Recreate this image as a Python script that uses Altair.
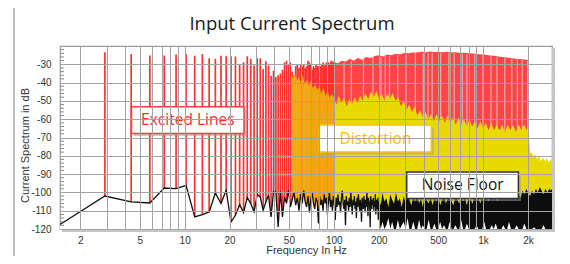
import altair as alt
import pandas as pd

# ---------------- data ----------------
DF = 1.46                      # spacing of the spectral lines (Hz)
F_RANGE = [1.46, 2900]         # x-axis range (Hz)
DB_RANGE = [-120, -20]         # y-axis range (dB)

# excited lines, k = 2..68 (f = k * DF): peak level in dB
exc_peak = [
    -23.4, -24.4, -25.2, -25.2, -24.7, -24.4, -25.3, -24.4, -26.7, -27.0,
    -25.3, -25.6, -25.6, -25.8, -29.8, -28.9, -25.6, -27.0, -30.7, -26.7,
    -26.7, -32.6, -28.4, -30.7, -36.2, -33.5, -37.0, -36.0, -35.0, -33.0,
    -29.0, -28.0, -30.0, -29.0, -34.0, -36.0, -31.0, -30.0, -32.0, -30.0,
    -31.0, -30.0, -32.0, -31.0, -28.0, -29.0, -30.0, -33.0, -31.0, -32.0,
    -30.0, -31.0, -31.0, -33.0, -31.0, -30.0, -29.0, -31.0, -30.0, -29.0,
    -30.0, -29.0, -30.0, -29.0, -28.0, -29.0, -28.5,
]

# dense excited lines above 100 Hz: envelope of the peaks
red_env_f = [100, 106, 113, 120, 128, 136, 145, 155, 165, 176,
             188, 200, 214, 228, 244, 260, 278, 297, 317, 339,
             362, 387, 413, 441, 471, 503, 537, 574, 613, 655,
             700, 747, 798, 852, 910, 972, 1038, 1109, 1184, 1265,
             1351, 1443, 1541, 1646, 1758, 1878, 1960, 2020]
red_env_db = [-28.5, -29.5, -28.0, -28.5, -27.0, -28.0, -26.5, -27.5, -26.0, -26.5,
              -25.5, -25.0, -25.8, -24.6, -25.0, -24.2, -24.5, -23.8, -24.0, -23.5,
              -23.6, -23.2, -23.4, -23.0, -23.3, -23.1, -23.4, -23.2, -23.5, -23.4,
              -23.8, -23.7, -24.0, -24.1, -24.4, -24.6, -24.8, -25.2, -25.3, -25.7,
              -26.0, -26.3, -26.6, -26.9, -27.1, -27.4, -27.5, -27.6]

# lighter lines seen inside the dense red band
stripe_f = [117, 131, 158, 183, 207, 221, 236, 268, 305, 352,
            398, 428, 456, 520, 590, 640, 726, 780, 880, 1000,
            1130, 1240, 1400, 1560, 1700, 1830, 1990]
stripe_db = [-29, -28, -27, -26, -26, -25.5, -25.5, -25, -24.5, -24,
             -24, -23.8, -23.8, -23.7, -23.8, -24, -24.2, -24.5, -24.8, -25,
             -25.7, -26, -26.5, -27, -27.3, -27.6, -28]

# distortion (non-excited lines), 52..100 Hz where it mixes with the red lines
orange_f = [52, 53.5, 55, 56.5, 58, 60, 62, 64, 66, 68, 70,
            72.5, 75, 77.5, 80, 82.5, 85, 88, 91, 94, 97, 100]
orange_db = [-34, -38, -35, -39, -37, -40, -36, -41, -38, -42, -39,
             -43, -41, -44, -42, -46, -43, -47, -45, -48, -46, -48]

# distortion above 100 Hz
yellow_f = [100, 104, 108, 112, 117, 122, 127, 132, 138, 144,
            150, 156, 163, 170, 177, 185, 193, 201, 210, 219,
            228, 238, 248, 259, 270, 282, 294, 307, 320, 334,
            348, 363, 379, 395, 412, 430, 449, 468, 488, 509,
            531, 554, 578, 603, 629, 656, 684, 714, 745, 777,
            810, 845, 882, 920, 960, 1001, 1044, 1089, 1136, 1185,
            1236, 1290, 1345, 1403, 1464, 1527, 1593, 1662, 1733, 1808,
            1886, 1967, 2020, 2035, 2060, 2090, 2130, 2180, 2240, 2300,
            2370, 2440, 2520, 2600, 2680, 2760, 2840, 2900]
yellow_db = [-48, -52, -47, -51, -48, -53, -49, -52, -48, -51,
             -47, -50, -46, -49, -45, -48, -44.5, -49, -46, -50,
             -46, -49, -45.5, -50, -48, -53, -50, -55, -52, -56,
             -53, -58, -55, -59, -56, -60, -57, -61, -57, -61,
             -58, -62, -58, -62, -59, -63, -59, -63, -60, -64,
             -60, -64, -61, -65, -61, -65, -62, -66, -62, -66,
             -63, -66, -63, -67, -63, -66, -63, -67, -63, -66,
             -63, -66, -64, -70, -76, -79, -78, -81, -79, -82,
             -80, -83, -81, -83, -81, -84, -82, -83]

# noise floor at every line k = 1..137 (f = k * DF)
noise_db = [
    -117.5, -102.0, -105.2, -105.8, -97.6, -97.9, -96.1, -113.4, -112.1, -110.7,
    -100.3, -106.1, -98.8, -116.2, -112.5, -106.7, -111.0, -102.8, -106.1, -110.7,
    -101.1, -102.5, -109.8, -105.2, -101.6, -113.4, -99.4, -99.8, -118.9, -99.4,
    -113.4, -102.5, -106.0, -98.8, -108.0, -104.0, -100.0, -107.0, -103.0, -110.0,
    -101.0, -106.0, -99.0, -105.0, -108.0, -102.0, -111.0, -104.0, -100.0, -106.0,
    -109.0, -103.0, -105.0, -117.0, -102.0, -107.0, -104.0, -110.0, -101.0, -106.0,
    -103.0, -112.0, -105.0, -100.0, -108.0, -104.0, -110.0, -102.0, -106.0, -115.0,
    -103.0, -108.0, -101.0, -107.0, -105.0, -111.0, -103.0, -99.0, -106.0, -109.0,
    -104.0, -118.0, -102.0, -107.0, -105.0, -110.0, -103.0, -108.0, -100.0, -106.0,
    -112.0, -104.0, -107.0, -102.0, -109.0, -105.0, -114.0, -103.0, -108.0, -101.0,
    -106.0, -110.0, -104.0, -107.0, -116.0, -103.0, -105.0, -109.0, -102.0, -106.0,
    -111.0, -104.0, -108.0, -100.0, -106.0, -113.0, -103.0, -107.0, -105.0, -119.0,
    -102.0, -106.0, -109.0, -104.0, -107.0, -103.0, -110.0, -105.0, -108.0, -101.0,
    -112.0, -106.0, -104.0, -109.0, -103.0, -115.0, -105.0,
]

# noise floor above 200 Hz (too dense to resolve): upper and lower edge
band_f = [200, 206, 212, 218, 225, 232, 239, 246, 253, 261,
          269, 277, 285, 294, 303, 312, 321, 331, 341, 351,
          362, 373, 384, 395, 407, 419, 432, 445, 458, 472,
          486, 501, 516, 531, 547, 564, 581, 598, 616, 634,
          653, 673, 693, 714, 735, 757, 780, 803, 827, 852,
          878, 904, 931, 959, 988, 1018, 1048, 1080, 1112, 1145,
          1180, 1215, 1252, 1289, 1328, 1368, 1409, 1451, 1494, 1539,
          1585, 1633, 1682, 1732, 1784, 1838, 1893, 1950, 2008, 2068,
          2130, 2194, 2260, 2328, 2398, 2470, 2544, 2620, 2699, 2780,
          2840, 2900]
band_top = [-102, -107, -100, -105, -103, -108, -101, -104, -106, -100,
            -105, -103, -108, -102, -106, -99, -104, -107, -102, -105,
            -101, -106, -103, -108, -100, -104, -106, -102, -107, -103,
            -105, -101, -107, -104, -102, -106, -103, -100, -105, -107,
            -102, -104, -106, -101, -105, -103, -107, -102, -104, -106,
            -101, -105, -103, -106, -102, -104, -100, -105, -103, -101,
            -104, -102, -105, -100, -103, -101, -104, -102, -100, -103,
            -101, -99, -102, -100, -103, -99, -101, -98, -100, -102,
            -99, -101, -98, -100, -97, -99, -101, -98, -100, -98,
            -99, -98]
band_bot = [-113, -120, -116, -120, -118, -114, -120, -116, -120, -120,
            -115, -120, -118, -116, -120, -114, -120, -120, -116, -120,
            -120, -115, -120, -118, -120, -120, -115, -120, -120, -117,
            -120, -120, -116, -120, -118, -120, -120, -116, -120, -120,
            -118, -120, -120, -115, -120, -120, -117, -120, -120, -120,
            -120, -118, -120, -120, -120, -116, -120, -120, -120, -118,
            -120, -117, -120, -120, -120, -118, -120, -120, -116, -120,
            -120, -120, -118, -120, -120, -120, -117, -120, -120, -120,
            -120, -119, -120, -120, -120, -120, -118, -120, -120, -120,
            -120, -120]

# axis ticks
x_grid = [2, 3, 4, 5, 6, 7, 8, 9, 10, 20, 30, 40, 50, 60, 70, 80, 90,
          100, 200, 300, 400, 500, 600, 700, 800, 900, 1000, 2000]
x_labelled = [2, 5, 10, 20, 50, 100, 200, 500, 1000, 2000]
y_vals = [-30, -40, -50, -60, -70, -80, -90, -100, -110, -120]
y_minor = [-118, -116, -114, -112, -108, -106, -104, -102, -98, -96, -94, -92,
           -88, -86, -84, -82, -78, -76, -74, -72, -68, -66, -64, -62,
           -58, -56, -54, -52, -48, -46, -44, -42, -38, -36, -34, -32,
           -28, -26, -24, -22]

# annotation boxes (in data coordinates)
ann_text = ["Excited Lines", "Distortion", "Noise Floor"]
ann_f1 = [4.4, 80, 308]
ann_f2 = [25, 450, 1726]
ann_db1 = [-53.2, -63.2, -88.8]
ann_db2 = [-67.8, -77.9, -103.4]
ann_fc = [10.5, 190, 730]
ann_dbc = [-60.5, -70.6, -96.1]
ann_color = ["#ff2b2b", "#ffc000", "#111111"]
ann_stroke = ["#ff3b3b", "#f5c518", "#333333"]

# ---------------- chart ----------------
W, H = 492, 183
FONT = "Liberation Sans"

xs = alt.Scale(type="log", domain=F_RANGE, nice=False)
ys = alt.Scale(domain=DB_RANGE, nice=False, zero=False)

x_axis = alt.Axis(
    values=x_grid, title="Frequency In Hz", grid=True, ticks=False, domain=False,
    labelExpr="indexof(" + str(x_labelled) + ", datum.value) >= 0 ? "
              "(datum.value >= 1000 ? (datum.value / 1000) + 'k' : '' + datum.value) : ''",
    labelOverlap=False, labelFlush=False, labelFont=FONT, labelFontSize=10,
    labelColor="#333333", labelPadding=6, titleFont=FONT, titleFontSize=11,
    titleFontWeight="normal", titleColor="#333333", titleY=21.5, titleBaseline="middle",
    gridColor="#a3a3a3", gridWidth=1, zindex=1)
y_axis = alt.Axis(
    values=y_vals, title="Current Spectrum in dB", grid=True, ticks=False, domain=False,
    labelExpr="'' + datum.value", labelFont=FONT, labelFontSize=10, labelColor="#333333",
    labelPadding=9, labelOverlap=False, titleFont=FONT, titleFontSize=11,
    titleFontWeight="normal", titleColor="#333333", titleX=-35, titleY=99,
    titleAngle=270, titleBaseline="middle", titleAlign="center",
    gridColor="#a3a3a3", gridWidth=1, zindex=1)


def X(f):
    return alt.X(f"{f}:Q", scale=xs, axis=x_axis)


def Y(f):
    return alt.Y(f"{f}:Q", scale=ys, axis=y_axis)


exc_df = pd.DataFrame({"f": [DF * k for k in range(2, 2 + len(exc_peak))], "db": exc_peak})
red_env_df = pd.DataFrame({"f": red_env_f, "db": red_env_db})
stripe_df = pd.DataFrame({"f": stripe_f, "db": stripe_db})
orange_df = pd.DataFrame({"f": orange_f, "db": orange_db})
yellow_df = pd.DataFrame({"f": yellow_f, "db": yellow_db})
noise_df = pd.DataFrame({"f": [DF * k for k in range(1, 1 + len(noise_db))], "db": noise_db})
band_df = pd.DataFrame({"f": band_f, "top": band_top, "bot": band_bot})
minor_df = pd.DataFrame({"db": y_minor})
ann_df = pd.DataFrame({"text": ann_text, "f1": ann_f1, "f2": ann_f2, "db1": ann_db1,
                       "db2": ann_db2, "fc": ann_fc, "dbc": ann_dbc,
                       "tcolor": ann_color, "scolor": ann_stroke})

red_rules = alt.Chart(exc_df).mark_rule(color="#ff3030", strokeWidth=1.7).encode(
    x=X("f"), y=Y("db"), y2=alt.datum(-120))
red_area = alt.Chart(red_env_df).mark_area(color="#ff4545", opacity=1).encode(
    x=X("f"), y=Y("db"), y2=alt.datum(-120))
red_stripes = alt.Chart(stripe_df).mark_rule(color="#ffa8a8", strokeWidth=1.2).encode(
    x=X("f"), y=Y("db"), y2=alt.datum(-120))
orange_area = alt.Chart(orange_df).mark_area(color="#f0d200", opacity=0.72).encode(
    x=X("f"), y=Y("db"), y2=alt.datum(-120))
yellow_area = alt.Chart(yellow_df).mark_area(color="#e8da00", opacity=1).encode(
    x=X("f"), y=Y("db"), y2=alt.datum(-120))
noise_fill = alt.Chart(noise_df).mark_area(color="white", opacity=1).encode(
    x=X("f"), y=Y("db"), y2=alt.datum(-120))
band_fill = alt.Chart(band_df).mark_area(color="white").encode(
    x=X("f"), y=Y("top"), y2=alt.datum(-120))
noise_band = alt.Chart(band_df).mark_area(color="#0d0d0d").encode(
    x=X("f"), y=Y("top"), y2=alt.Y2("bot"))
noise_line = alt.Chart(noise_df).mark_line(color="#111111", strokeWidth=1.3).encode(
    x=X("f"), y=Y("db"))
minor_ticks = alt.Chart(minor_df).mark_rule(color="#8a8a8a", strokeWidth=1).encode(
    y=Y("db"), x=alt.value(0), x2=alt.value(4))

# plot-frame shadow and the outer figure frame (decoration)
frame = pd.DataFrame({"k": [0]})
shadow_b = alt.Chart(frame).mark_rule(color="#c6c6c6", strokeWidth=3).encode(
    x=alt.value(2), x2=alt.value(W + 3), y=alt.value(H + 1.5))
shadow_r = alt.Chart(frame).mark_rule(color="#c6c6c6", strokeWidth=3).encode(
    x=alt.value(W + 1.5), y=alt.value(2), y2=alt.value(H + 3))
outer_l = alt.Chart(frame).mark_rule(color="#a8a8a8", strokeWidth=1.5).encode(
    x=alt.value(-46), y=alt.value(-38), y2=alt.value(H + 30))

ann_shadow = alt.Chart(ann_df).mark_rect(
    color="#9c9c9c", opacity=0.55, xOffset=2.5, x2Offset=2.5, yOffset=2.5, y2Offset=2.5).encode(
    x=X("f1"), x2="f2", y=Y("db1"), y2="db2")
ann_box = alt.Chart(ann_df).mark_rect(fill="white", strokeWidth=1.5).encode(
    x=X("f1"), x2="f2", y=Y("db1"), y2="db2",
    stroke=alt.Stroke("scolor:N", scale=None))
ann_label = alt.Chart(ann_df).mark_text(font="Open Sans", fontSize=15.5, baseline="middle",
                                        align="center").encode(
    x=X("fc"), y=Y("dbc"), text="text:N", color=alt.Color("tcolor:N", scale=None))

chart = alt.layer(
    red_rules, red_area, red_stripes, orange_area, yellow_area, noise_fill, band_fill,
    noise_band, noise_line, minor_ticks, shadow_b, shadow_r, outer_l, ann_shadow, ann_box,
    ann_label
).properties(
    width=W, height=H,
    title=alt.TitleParams("Input Current Spectrum", font="Open Sans", fontSize=18.5,
                          fontWeight="normal", color="#1a1a1a", anchor="middle",
                          dx=-14, offset=-41, baseline="alphabetic"),
    padding={"left": 52, "top": 38, "right": 10, "bottom": 27},
    autosize=alt.AutoSizeParams(type="none"),
    background="white",
).configure_view(stroke="#9a9a9a", strokeWidth=1.2)

chart.save("out.html", embed_options={"renderer": "svg", "actions": False})
